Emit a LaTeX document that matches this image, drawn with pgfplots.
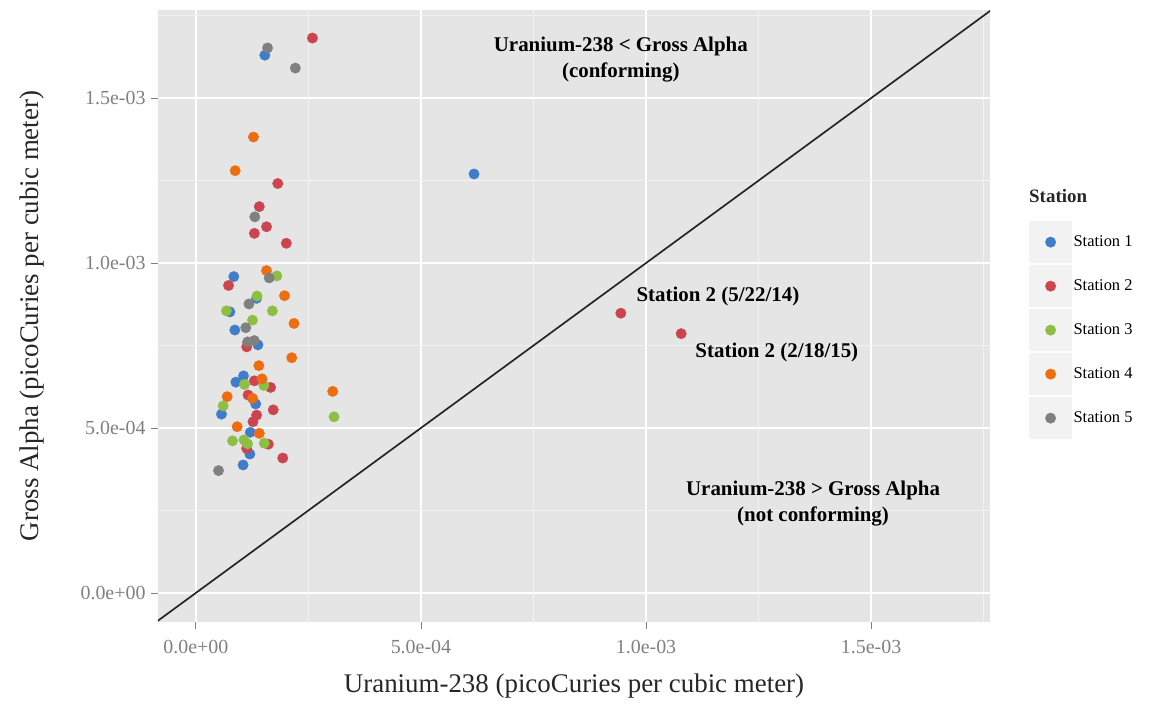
\documentclass[border=0pt]{standalone}
\usepackage{fontspec}
\setmainfont{Liberation Serif}
\usepackage{pgfplots}
\usepackage{pgfplotstable}
\pgfplotsset{compat=1.18}

\definecolor{panelbg}{HTML}{E5E5E5}
\definecolor{minorgrid}{HTML}{F2F2F2}
\definecolor{keybg}{HTML}{F2F2F2}
\definecolor{tickgray}{HTML}{808080}
\definecolor{sone}{HTML}{3F7DCB}
\definecolor{stwo}{HTML}{CC444F}
\definecolor{sthree}{HTML}{8DBF45}
\definecolor{sfour}{HTML}{EE6D10}
\definecolor{sfive}{HTML}{808080}

% uranium-238 vs gross alpha, pCi/m^3
\pgfplotstableread{
u ga
1.533e-4 1.630e-3
6.18e-4  1.270e-3
0.844e-4 0.959e-3
0.756e-4 0.852e-3
1.35e-4  0.893e-3
0.867e-4 0.797e-3
1.38e-4  0.752e-3
1.06e-4  0.658e-3
0.889e-4 0.639e-3
1.33e-4  0.573e-3
0.570e-4 0.542e-3
1.21e-4  0.487e-3
1.20e-4  0.421e-3
1.05e-4  0.388e-3
}\stationone
\pgfplotstableread{
u ga
2.59e-4  1.682e-3
1.82e-4  1.241e-3
1.41e-4  1.171e-3
1.57e-4  1.110e-3
1.30e-4  1.090e-3
2.01e-4  1.060e-3
0.726e-4 0.932e-3
1.13e-4  0.746e-3
1.30e-4  0.643e-3
1.66e-4  0.623e-3
1.16e-4  0.600e-3
1.72e-4  0.555e-3
1.35e-4  0.539e-3
1.27e-4  0.519e-3
1.13e-4  0.438e-3
1.61e-4  0.451e-3
1.93e-4  0.409e-3
9.44e-4  0.848e-3
1.078e-3 0.786e-3
}\stationtwo
\pgfplotstableread{
u ga
1.80e-4  0.961e-3
1.36e-4  0.900e-3
0.68e-4  0.855e-3
1.70e-4  0.855e-3
1.26e-4  0.827e-3
1.08e-4  0.632e-3
1.51e-4  0.629e-3
0.607e-4 0.567e-3
3.07e-4  0.534e-3
0.815e-4 0.461e-3
1.07e-4  0.464e-3
1.15e-4  0.452e-3
1.52e-4  0.454e-3
}\stationthree
\pgfplotstableread{
u ga
1.28e-4  1.382e-3
0.874e-4 1.280e-3
1.57e-4  0.977e-3
1.97e-4  0.901e-3
2.18e-4  0.817e-3
2.13e-4  0.713e-3
1.40e-4  0.689e-3
1.47e-4  0.649e-3
0.696e-4 0.595e-3
1.26e-4  0.590e-3
3.04e-4  0.611e-3
0.918e-4 0.504e-3
1.41e-4  0.484e-3
}\stationfour
\pgfplotstableread{
u ga
1.593e-4 1.652e-3
2.21e-4  1.591e-3
1.31e-4  1.140e-3
1.63e-4  0.955e-3
1.18e-4  0.876e-3
1.11e-4  0.804e-3
1.15e-4  0.761e-3
1.30e-4  0.765e-3
0.504e-4 0.371e-3
}\stationfive

\begin{document}
\begin{tikzpicture}
\path[use as bounding box] (-158bp,-97bp) rectangle (1000bp,622bp);
\begin{axis}[
    at={(0,0)}, anchor=south west,
    scale only axis,
    width=832bp, height=612bp,
    xmin=-0.84e-4, xmax=1.764e-3,
    ymin=-0.88e-4, ymax=1.767e-3,
    axis background/.style={fill=panelbg},
    axis line style={draw=none},
    xtick={0,5e-4,1e-3,1.5e-3},
    ytick={0,5e-4,1e-3,1.5e-3},
    xticklabels={0.0e+00,5.0e-04,1.0e-03,1.5e-03},
    yticklabels={0.0e+00,5.0e-04,1.0e-03,1.5e-03},
    minor xtick={2.5e-4,7.5e-4,1.25e-3,1.75e-3},
    minor ytick={2.5e-4,7.5e-4,1.25e-3,1.75e-3},
    scaled ticks=false,
    grid=both,
    major grid style={white, line width=1.6bp},
    minor grid style={minorgrid, line width=0.7bp},
    minor tick length=0pt,
    major tick length=7bp,
    tick align=outside,
    xtick pos=bottom, ytick pos=left,
    tick style={tickgray, line width=0.8bp},
    ticklabel style={font=\fontsize{20}{20}\selectfont, text=tickgray},
    xticklabel style={yshift=-8bp},
    yticklabel style={xshift=-2bp},
    xlabel={Uranium-238 (picoCuries per cubic meter)},
    ylabel={Gross Alpha (picoCuries per cubic meter)},
    label style={font=\fontsize{27}{27}\selectfont, text=black!85},
    xlabel style={at={(axis description cs:0.5,-0.105)}, anchor=center},
    ylabel style={at={(axis description cs:-0.152,0.5)}, anchor=center},
    legend style={
        at={(axis description cs:1.047,0.655)}, anchor=north west,
        draw=none, fill=none, inner sep=0pt, outer sep=0pt,
        row sep=2bp, column sep=0bp,
        font=\fontsize{16.5}{16.5}\selectfont,
        nodes={inner xsep=1.5bp},
    },
    legend cell align=left,
    legend image code/.code={
        \fill[keybg, draw=none] (-21.5bp,-21bp) rectangle (21.5bp,21bp);
        \draw plot coordinates {(0bp,0bp)};
    },
]
\addplot[sone, only marks, mark=*, mark size=5.2bp] table[x=u, y=ga] {\stationone};
\addlegendentry{Station 1}
\addplot[stwo, only marks, mark=*, mark size=5.2bp] table[x=u, y=ga] {\stationtwo};
\addlegendentry{Station 2}
\addplot[sthree, only marks, mark=*, mark size=5.2bp] table[x=u, y=ga] {\stationthree};
\addlegendentry{Station 3}
\addplot[sfour, only marks, mark=*, mark size=5.2bp] table[x=u, y=ga] {\stationfour};
\addlegendentry{Station 4}
\addplot[sfive, only marks, mark=*, mark size=5.2bp] table[x=u, y=ga] {\stationfive};
\addlegendentry{Station 5}

\addplot[sharp plot, no marks, black!85, line width=1.7bp, forget plot] coordinates {(-1e-4,-1e-4) (1.8e-3,1.8e-3)};

\begin{scope}[font=\fontsize{21}{26}\selectfont\bfseries]
\node[align=center] at (axis cs:9.44e-4,1.617e-3) {Uranium-238 \textless{} Gross Alpha\\(conforming)};
\node[anchor=west] at (axis cs:9.71e-4,0.900e-3) {Station 2 (5/22/14)};
\node[anchor=west] at (axis cs:1.102e-3,0.730e-3) {Station 2 (2/18/15)};
\node[align=center] at (axis cs:1.371e-3,0.271e-3) {Uranium-238 \textgreater{} Gross Alpha\\(not conforming)};
\end{scope}
\end{axis}
\node[anchor=west, font=\fontsize{19}{19}\selectfont\bfseries, inner sep=0pt, text=black!85] at (871bp,426bp) {Station};
\end{tikzpicture}
\end{document}
